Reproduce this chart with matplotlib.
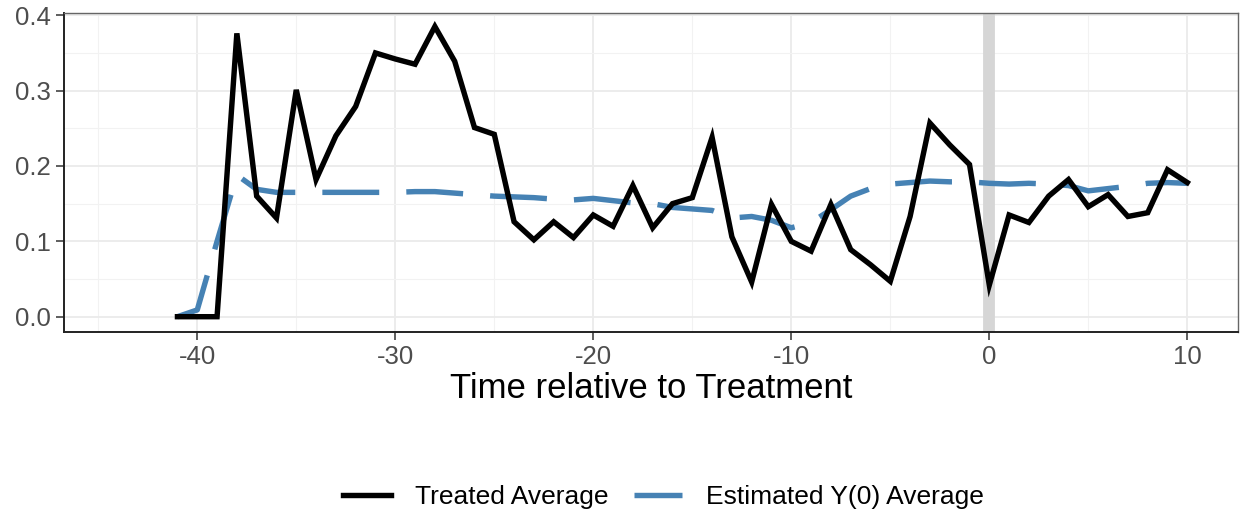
import numpy as np
import matplotlib
matplotlib.use('Agg')
import matplotlib.pyplot as plt

plt.rcParams['font.family'] = ['Liberation Sans', 'DejaVu Sans']
plt.rcParams['axes.unicode_minus'] = False

# time relative to treatment
time = np.arange(-41, 11)

# observed average for treated units
treated = [0.0, 0.0, 0.0, 0.376, 0.16, 0.131, 0.301, 0.182, 0.24, 0.279,
           0.35, 0.342, 0.335, 0.385, 0.339, 0.251, 0.242, 0.126, 0.102, 0.126,
           0.105, 0.135, 0.12, 0.174, 0.118, 0.15, 0.158, 0.238, 0.106, 0.046,
           0.149, 0.1, 0.087, 0.149, 0.089, 0.069, 0.047, 0.133, 0.257, 0.228,
           0.202, 0.042, 0.135, 0.125, 0.16, 0.182, 0.146, 0.162, 0.133, 0.138,
           0.195, 0.178]

# counterfactual estimate
y0_est = [0.0, 0.009, 0.1, 0.188, 0.169, 0.165, 0.165, 0.165, 0.165, 0.165,
          0.165, 0.165, 0.166, 0.166, 0.164, 0.162, 0.16, 0.159, 0.158, 0.156,
          0.155, 0.157, 0.154, 0.151, 0.15, 0.145, 0.143, 0.141, 0.131, 0.133,
          0.128, 0.118, 0.125, 0.142, 0.16, 0.17, 0.176, 0.178, 0.18, 0.179,
          0.179, 0.177, 0.176, 0.177, 0.176, 0.174, 0.167, 0.17, 0.173, 0.177,
          0.178, 0.177]

fig = plt.figure(figsize=(12.4, 5.18), dpi=100)
ax = fig.add_axes([64/1240, 1 - 332/518, (1238 - 64)/1240, (332 - 13)/518])

# treatment onset marker
ax.axvline(0, color='#d6d6d6', lw=8.5, zorder=1)

ax.plot(time, treated, color='black', lw=3.9, solid_joinstyle='miter',
        label='Treated Average', zorder=3)
ax.plot(time, y0_est, color='#4682B4', lw=3.9, dashes=(10.5, 5.0),
        dash_capstyle='butt', label='Estimated Y(0) Average', zorder=2)

ax.set_xlim(-46.73, 12.56)
ax.set_ylim(-0.0203, 0.403)
ax.set_xticks([-40, -30, -20, -10, 0, 10])
ax.set_xticks(np.arange(-45, 11, 10), minor=True)
ax.set_yticks([0.0, 0.1, 0.2, 0.3, 0.4])
ax.set_yticks([0.05, 0.15, 0.25, 0.35], minor=True)
ax.set_yticklabels(['0.0', '0.1', '0.2', '0.3', '0.4'])

ax.grid(which='major', color='#ebebeb', lw=1.3, zorder=0)
ax.grid(which='minor', color='#f2f2f2', lw=0.8, zorder=0)
ax.set_axisbelow(True)

ax.tick_params(which='major', length=5.5, width=1.1, color='#333333',
               labelsize=18.5, labelcolor='#4d4d4d', pad=4)
ax.tick_params(which='minor', length=0)

for side in ['left', 'bottom']:
    ax.spines[side].set_color('#222222')
    ax.spines[side].set_linewidth(1.4)
for side in ['top', 'right']:
    ax.spines[side].set_color('#666666')
    ax.spines[side].set_linewidth(1.0)

ax.set_xlabel('Time relative to Treatment', fontsize=25, color='black', labelpad=2)

fig.legend(loc='center', bbox_to_anchor=(0.535, 1 - 497/518), ncol=2,
           frameon=False, fontsize=19, handlelength=1.8, handletextpad=0.9,
           columnspacing=1.0)

fig.savefig('out.png', dpi=100)
